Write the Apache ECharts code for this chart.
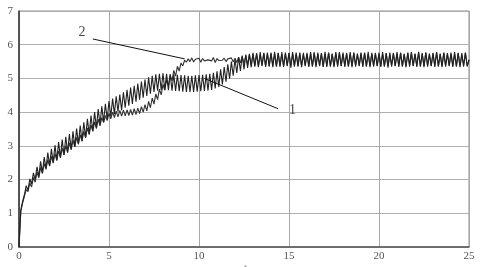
<!DOCTYPE html>
<html><head><meta charset="utf-8">
<script src="https://cdn.jsdelivr.net/npm/echarts@6/dist/echarts.min.js"></script>
<style>html,body{margin:0;padding:0;background:#fff}#c{width:488px;height:267px}</style>
</head><body><div id="c"></div>
<script>
const xStep = 0.1;
const xTicks = [0, 5, 10, 15, 20, 25];
const yTicks = [0, 1, 2, 3, 4, 5, 6, 7];
const curve1 = [
0,1.10,1.35,1.55,1.82,1.68,2.02,1.87,2.20,2.00,
2.38,2.09,2.54,2.20,2.67,2.33,2.80,2.42,2.91,2.51,
3.02,2.57,3.11,2.65,3.19,2.73,3.27,2.80,3.35,2.89,
3.43,2.97,3.51,3.05,3.60,3.14,3.70,3.25,3.80,3.34,
3.90,3.44,4.00,3.54,4.09,3.63,4.17,3.71,4.25,3.79,
4.33,3.87,4.40,3.94,4.47,4.01,4.52,4.06,4.59,4.13,
4.66,4.19,4.73,4.24,4.78,4.31,4.85,4.37,4.91,4.43,
4.97,4.48,5.03,4.55,5.08,4.60,5.12,4.64,5.14,4.66,
5.15,4.66,5.14,4.65,5.13,4.64,5.12,4.63,5.11,4.62,
5.10,4.61,5.09,4.60,5.08,4.60,5.08,4.60,5.09,4.61,
5.10,4.62,5.11,4.63,5.12,4.64,5.14,4.66,5.17,4.70,
5.21,4.75,5.27,4.82,5.34,4.90,5.42,4.99,5.50,5.08,
5.57,5.16,5.63,5.22,5.68,5.27,5.71,5.31,5.73,5.33,
5.76,5.35,5.74,5.33,5.78,5.36,5.75,5.34,5.77,5.37,
5.74,5.33,5.79,5.35,5.76,5.38,5.73,5.34,5.77,5.36,
5.75,5.32,5.78,5.35,5.74,5.37,5.77,5.33,5.76,5.36,
5.73,5.34,5.78,5.36,5.75,5.33,5.77,5.38,5.74,5.35,
5.79,5.34,5.76,5.36,5.74,5.33,5.78,5.35,5.75,5.37,
5.77,5.34,5.73,5.36,5.78,5.33,5.76,5.35,5.74,5.38,
5.77,5.34,5.75,5.36,5.79,5.33,5.74,5.35,5.76,5.37,
5.73,5.34,5.78,5.36,5.75,5.32,5.77,5.35,5.74,5.37,
5.78,5.34,5.75,5.36,5.73,5.33,5.77,5.35,5.76,5.38,
5.74,5.34,5.79,5.36,5.75,5.33,5.77,5.35,5.74,5.37,
5.76,5.34,5.78,5.36,5.74,5.33,5.77,5.35,5.75,5.38,
5.73,5.34,5.78,5.36,5.76,5.33,5.75,5.35,5.77,5.36,
5.55];
const curve2 = [
0,1.05,1.30,1.50,1.70,1.64,1.90,1.78,2.06,1.92,
2.22,2.05,2.36,2.18,2.48,2.30,2.59,2.40,2.69,2.49,
2.77,2.57,2.85,2.65,2.93,2.73,3.01,2.81,3.09,2.89,
3.17,2.97,3.25,3.05,3.33,3.14,3.43,3.24,3.53,3.34,
3.62,3.43,3.71,3.51,3.79,3.59,3.84,3.69,3.90,3.75,
3.96,3.80,4.00,3.84,4.03,3.86,4.05,3.88,4.06,3.89,
4.07,3.90,4.08,3.91,4.10,3.93,4.12,3.96,4.16,4.00,
4.22,4.04,4.32,4.13,4.42,4.24,4.54,4.37,4.68,4.51,
4.82,4.65,4.96,4.79,5.10,4.93,5.24,5.07,5.36,5.22,
5.46,5.37,5.54,5.48,5.58,5.50,5.61,5.49,5.57,5.54,
5.60,5.48,5.59,5.52,5.56,5.55,5.58,5.52,5.62,5.47,
5.59,5.53,5.57,5.54,5.60,5.50,5.58,5.53,5.61,5.49,
5.60,5.47,5.63,5.46,5.65,5.44,5.68,5.41,5.71,5.39,
5.72,5.38,5.75,5.36,5.71,5.39,5.76,5.37,5.73,5.35,
5.77,5.38,5.72,5.36,5.75,5.34,5.78,5.37,5.73,5.39,
5.76,5.36,5.72,5.38,5.77,5.35,5.74,5.37,5.71,5.39,
5.76,5.37,5.73,5.35,5.78,5.38,5.72,5.36,5.75,5.34,
5.73,5.38,5.77,5.35,5.72,5.37,5.75,5.39,5.78,5.36,
5.72,5.38,5.76,5.35,5.73,5.37,5.77,5.39,5.71,5.36,
5.74,5.38,5.77,5.35,5.72,5.37,5.76,5.39,5.73,5.36,
5.77,5.38,5.72,5.35,5.75,5.37,5.71,5.39,5.76,5.36,
5.73,5.38,5.77,5.35,5.72,5.37,5.75,5.39,5.78,5.36,
5.72,5.38,5.76,5.35,5.73,5.37,5.77,5.39,5.71,5.36,
5.74,5.38,5.77,5.35,5.72,5.37,5.76,5.39,5.73,5.36,
5.77,5.38,5.72,5.35,5.75,5.37,5.71,5.39,5.76,5.36,
5.56];
const leader1 = [[10.3, 5.0], [14.4, 4.1]];
const leader2 = [[4.1, 6.17], [9.2, 5.58]];
const labelPts = [{name: '1', value: [15.2, 4.05]}, {name: '2', value: [3.5, 6.38]}];
const axisTitle = 't';

const toPts = arr => arr.map((v, i) => [+(i * xStep).toFixed(2), v]);
const serif = '"Liberation Serif", "DejaVu Serif", serif';
const chart = echarts.init(document.getElementById('c'), null, {renderer: 'canvas'});
chart.setOption({
  animation: false,
  grid: {left: 19, right: 19, top: 11, bottom: 20, show: true, borderColor: '#8a8a8a', borderWidth: 1},
  xAxis: {type: 'value', min: xTicks[0], max: xTicks[xTicks.length - 1], interval: 5,
    axisLine: {lineStyle: {color: '#555', width: 1.5}}, axisTick: {show: false},
    axisLabel: {color: '#555', fontFamily: serif, fontSize: 11, margin: 4},
    splitLine: {show: true, lineStyle: {color: '#a8a8a8', width: 1}}},
  yAxis: {type: 'value', min: yTicks[0], max: yTicks[yTicks.length - 1], interval: 1,
    axisLine: {show: true, lineStyle: {color: '#333', width: 1.5}}, axisTick: {show: false},
    axisLabel: {color: '#555', fontFamily: serif, fontSize: 11, margin: 6},
    splitLine: {show: true, lineStyle: {color: '#b0b0b0', width: 1}}},
  graphic: [{type: 'text', left: 244, top: 263, style: {text: axisTitle, font: '11px ' + serif, fill: '#888'}}],
  series: [
    {type: 'line', data: toPts(curve2), showSymbol: false, lineStyle: {color: '#333', width: 1.1}, z: 3},
    {type: 'line', data: toPts(curve1), showSymbol: false, lineStyle: {color: '#222', width: 1.1}, z: 4},
    {type: 'line', data: leader1, showSymbol: false, lineStyle: {color: '#111', width: 1}, z: 5},
    {type: 'line', data: leader2, showSymbol: false, lineStyle: {color: '#111', width: 1}, z: 5},
    {type: 'scatter', data: labelPts, symbolSize: 0, z: 6,
      label: {show: true, position: 'inside', formatter: p => p.name, color: '#111', fontFamily: serif, fontSize: 14}}
  ]
});
</script></body></html>
